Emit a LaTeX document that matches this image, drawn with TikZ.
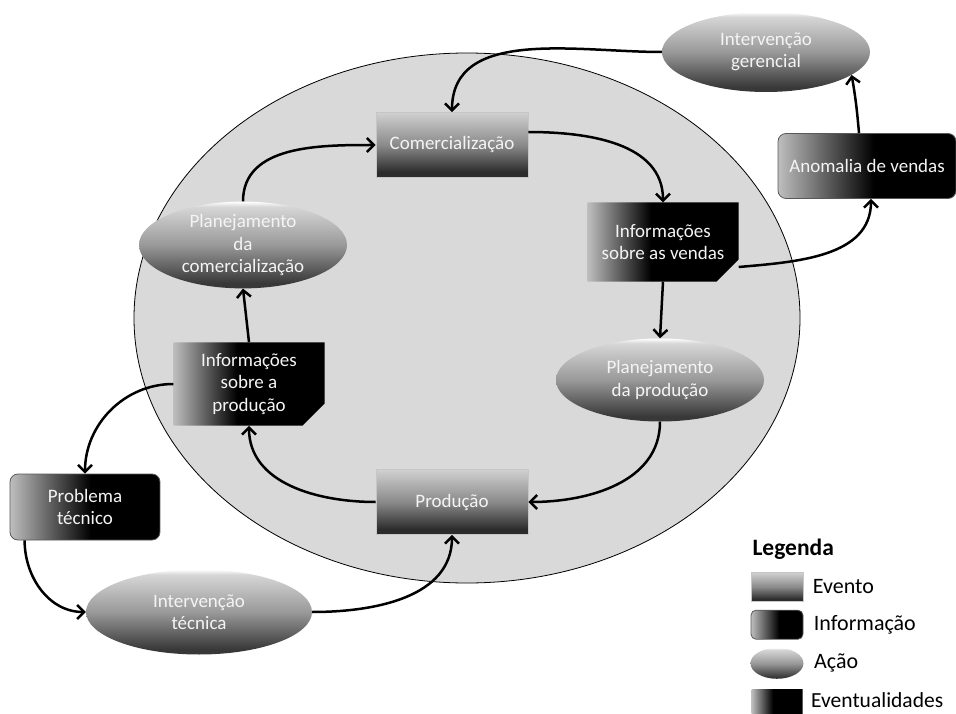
\documentclass[tikz,border=0pt]{standalone}
\usepackage{fontspec}
\setmainfont{Carlito}
\usetikzlibrary{arrows.meta,positioning,shapes.geometric,shapes.misc}

\definecolor{fundo}{HTML}{D9D9D9}
\definecolor{evtop}{HTML}{D0D0D0}
\definecolor{evmid}{HTML}{8A8A8A}
\definecolor{evbot}{HTML}{2C2C2C}
\definecolor{actop}{HTML}{D6D6D6}
\definecolor{acmid}{HTML}{999999}
\definecolor{acbot}{HTML}{383838}
\definecolor{inleft}{HTML}{BEBEBE}
\definecolor{texto}{HTML}{F4F4F4}

\pgfdeclareverticalshading{eventoshade}{100bp}{color(0bp)=(evbot); color(25bp)=(evbot); color(29bp)=(evbot); color(50bp)=(evmid); color(75bp)=(evtop); color(100bp)=(evtop)}
\pgfdeclareverticalshading{acaoshade}{100bp}{color(0bp)=(acbot); color(25bp)=(acbot); color(28bp)=(acbot); color(50bp)=(acmid); color(72bp)=(actop); color(75bp)=(white); color(100bp)=(white)}
\pgfdeclarehorizontalshading{infoshade}{100bp}{color(0bp)=(inleft); color(25bp)=(inleft); color(46bp)=(black); color(100bp)=(black)}
\pgfdeclarehorizontalshading{anomshade}{100bp}{color(0bp)=(inleft); color(25bp)=(inleft); color(52bp)=(black); color(100bp)=(black)}

\begin{document}
\begin{tikzpicture}[x=1pt,y=-1pt,>={Straight Barb[length=7pt,width=14pt]},
    every node/.append style={align=center,text=texto,font=\fontsize{19}{22.5}\selectfont},
    evento/.style={rectangle,shade,shading=eventoshade,draw=gray!45,line width=0.6pt,minimum width=152pt,minimum height=65pt},
    acao/.style={ellipse,shade,shading=acaoshade,inner sep=0pt,minimum width=208pt,minimum height=83pt},
    info/.style={chamfered rectangle,chamfered rectangle corners=south east,chamfered rectangle sep=11pt,shade,shading=infoshade,inner sep=0pt,minimum width=151pt,minimum height=79pt},
    evtl/.style={rectangle,rounded corners=8pt,shade,shading=anomshade,draw=black!65,line width=0.8pt,minimum width=150pt,minimum height=66pt},
    leg/.style={text=black,inner ysep=1pt,font=\fontsize{22}{26}\selectfont}]
    \useasboundingbox (0,0) rectangle (956,714);
    \clip (0,0) rectangle (956,714);

    % ciclo principal
    \draw[fill=fundo,line width=0.8pt] (467,318) ellipse [x radius=333,y radius=265];

    \node [evento] (Com) at (452,145) {Comercialização};
    \node [info] (InfV) at (663,242) {Informações\\sobre as vendas};
    \node [acao] (PlP) at (660,380) {Planejamento\\da produção};
    \node [evento] (Prod) at (452,502) {Produção};
    \node [info] (InfP) at (249,384) {Informações\\sobre a\\produção};
    \node [acao] (PlC) at (243,245) {Planejamento\\da\\comercialização};

    % eventualidades
    \node [acao, minimum width=208pt, minimum height=80pt] (IntG) at (766,52) {Intervenção\\gerencial};
    \node [evtl, minimum width=178pt, minimum height=65pt] (Anom) at (867,166) {Anomalia de vendas};
    \node [evtl] (Prob) at (85,507) {Problema\\técnico};
    \node [acao, minimum width=226pt, minimum height=85pt] (IntT) at (199,612) {Intervenção\\técnica};

    \path[->,line width=2.5pt,auto=false]
        ([yshift=13pt]Com.east) edge[out=0,in=90] (InfV.north)
        (InfV.south) edge (PlP.north)
        (PlP.south) edge[out=-90,in=0] (Prod.east)
        (Prod.west) edge[out=180,in=-90] (InfP.south)
        (InfP.north) edge (PlC.south)
        (PlC.north) edge[out=90,in=180] (Com.west)
        ([yshift=-25pt]InfV.east) edge[out=5,in=-90] ([xshift=4pt]Anom.south)
        ([xshift=-8pt]Anom.north) edge[out=95,in=-80] (IntG.-15)
        (IntG.west) edge[out=180,in=90] (Com.north)
        (InfP.west) edge[out=180,in=90] (Prob.north)
        ([xshift=15pt]Prob.south west) edge[out=-90,in=180] (IntT.west)
        (IntT.east) edge[out=0,in=-90] (Prod.south);

    % legenda
    \node [leg, anchor=west, font=\bfseries\fontsize{23.5}{28}\selectfont] (Leg) at (749,549) {Legenda};
    \node [evento, minimum width=52pt, minimum height=29pt] (LEv) at (777,587) {};
    \node [evtl, rounded corners=5pt, minimum width=52pt, minimum height=29pt, below=8pt of LEv] (LInf) {};
    \node [acao, minimum width=53pt, minimum height=31pt, below=8pt of LInf] (LAc) {};
    \node [info, chamfered rectangle corners=north east, chamfered rectangle sep=8pt, minimum width=51pt, minimum height=29pt, below=10pt of LAc] (LEvt) {};
    \node [leg, right=6pt of LEv] {Evento};
    \node [leg, right=7pt of LInf] {Informação};
    \node [leg, right=7pt of LAc] {Ação};
    \node [leg, right=5pt of LEvt, yshift=4pt, font=\fontsize{21.5}{24}\selectfont] {Eventualidades};
\end{tikzpicture}
\end{document}
